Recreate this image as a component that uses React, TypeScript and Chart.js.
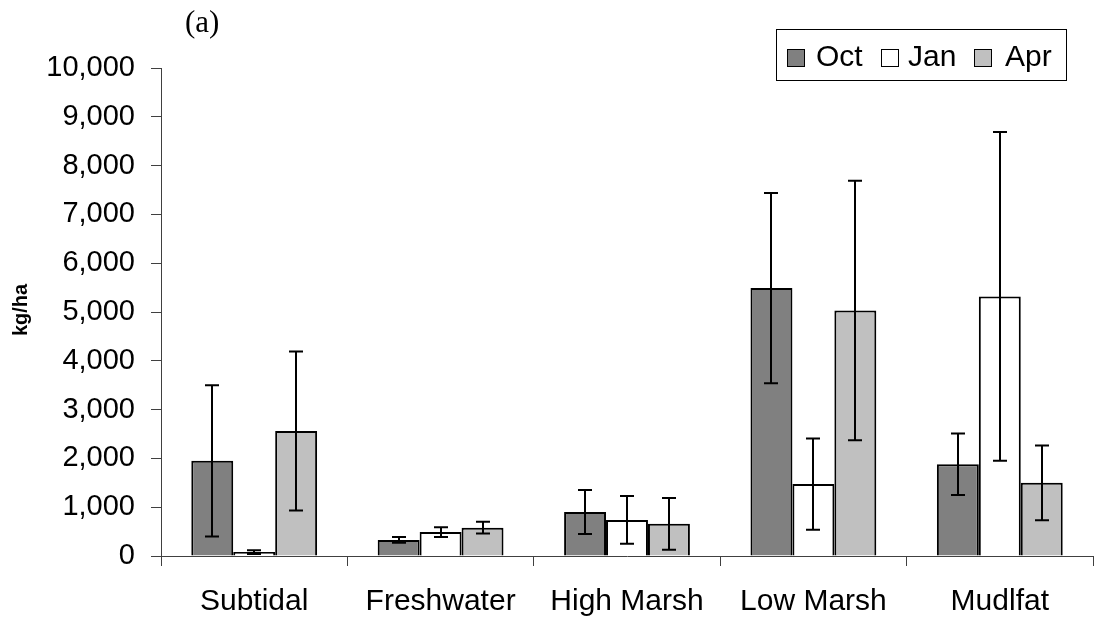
import React, { useEffect, useRef } from "react";
import { Chart, registerables } from "chart.js";

Chart.register(...registerables);

const categories = ["Subtidal", "Freshwater", "High Marsh", "Low Marsh", "Mudlfat"];
const seriesLabels = ["Oct", "Jan", "Apr"];
const octValues = [1950, 330, 900, 5490, 1880];
const octErrors = [1550, 60, 450, 1950, 630];
const janValues = [80, 490, 740, 1475, 5320];
const janErrors = [40, 100, 490, 935, 3370];
const aprValues = [2560, 580, 660, 5030, 1500];
const aprErrors = [1630, 120, 530, 2660, 765];
const yTicks = [0, 1000, 2000, 3000, 4000, 5000, 6000, 7000, 8000, 9000, 10000];
const panelLabel = "(a)";
const yTitle = "kg/ha";

const colors = ["#808080", "#ffffff", "#c0c0c0"];
const FONT = "'Liberation Sans', Arial, sans-serif";

const errorBarPlugin = {
  id: "errorBars",
  afterDatasetsDraw(chart: any) {
    const ctx = chart.ctx;
    const y = chart.scales.y;
    ctx.save();
    ctx.strokeStyle = "#000";
    ctx.lineWidth = 2;
    chart.data.datasets.forEach((ds: any, di: number) => {
      const meta = chart.getDatasetMeta(di);
      meta.data.forEach((bar: any, i: number) => {
        const v = ds.data[i];
        const e = ds.errors[i];
        const x = Math.round(bar.x);
        const yTop = y.getPixelForValue(v + e);
        const yBot = y.getPixelForValue(Math.max(0, v - e));
        ctx.beginPath();
        ctx.moveTo(x, yTop);
        ctx.lineTo(x, yBot);
        ctx.moveTo(x - 7, yTop);
        ctx.lineTo(x + 7, yTop);
        ctx.moveTo(x - 7, yBot);
        ctx.lineTo(x + 7, yBot);
        ctx.stroke();
      });
    });
    ctx.restore();
  },
};

const decorPlugin = {
  id: "decor",
  afterDraw(chart: any) {
    const ctx = chart.ctx;
    ctx.save();
    // panel label
    ctx.fillStyle = "#000";
    ctx.font = "31px 'Liberation Serif', 'Times New Roman', serif";
    ctx.textBaseline = "alphabetic";
    ctx.textAlign = "left";
    ctx.fillText(panelLabel, 185, 32);
    // y title
    ctx.save();
    ctx.translate(27, 310);
    ctx.rotate(-Math.PI / 2);
    ctx.font = "bold 20px " + FONT;
    ctx.textAlign = "center";
    ctx.textBaseline = "alphabetic";
    ctx.fillText(yTitle, 0, 0);
    ctx.restore();
    // legend
    ctx.lineWidth = 1;
    ctx.strokeStyle = "#000";
    ctx.fillStyle = "#fff";
    ctx.fillRect(776.5, 29.5, 290, 51);
    ctx.strokeRect(776.5, 29.5, 290, 51);
    const swatchX = [787, 881, 974];
    const textX = [816, 908, 1005];
    ctx.font = "30px " + FONT;
    ctx.textAlign = "left";
    ctx.textBaseline = "alphabetic";
    chart.data.datasets.forEach((ds: any, i: number) => {
      ctx.fillStyle = ds.backgroundColor;
      ctx.fillRect(swatchX[i] + 0.5, 49.5, 17, 17);
      ctx.strokeRect(swatchX[i] + 0.5, 49.5, 17, 17);
      ctx.fillStyle = "#000";
      ctx.fillText(ds.label, textX[i], 66);
    });
    ctx.restore();
  },
};

export default function App() {
  const ref = useRef<HTMLCanvasElement>(null);
  useEffect(() => {
    document.body.style.margin = "0";
    const values = [octValues, janValues, aprValues];
    const errors = [octErrors, janErrors, aprErrors];
    const chart = new Chart(ref.current as HTMLCanvasElement, {
      type: "bar",
      data: {
        labels: categories,
        datasets: seriesLabels.map((label, i) => ({
          label,
          data: values[i],
          errors: errors[i],
          backgroundColor: colors[i],
          borderColor: "#000",
          borderWidth: 2,
          categoryPercentage: 0.675,
          barPercentage: 1,
        })) as any,
      },
      options: {
        animation: false,
        responsive: false,
        maintainAspectRatio: false,
        layout: { padding: { top: 68, right: 1, left: 0, bottom: 0 } },
        plugins: { legend: { display: false }, title: { display: false }, tooltip: { enabled: false } },
        scales: {
          x: {
            grid: { drawOnChartArea: false, tickLength: 10, color: "#404040", offset: true },
            border: { color: "#404040", width: 1 },
            ticks: { color: "#000", font: { family: FONT, size: 30 }, padding: 18, maxRotation: 0 },
            afterFit(scale: any) {
              scale.height = 67;
            },
          },
          y: {
            min: 0,
            max: 10000,
            afterBuildTicks(scale: any) {
              scale.ticks = yTicks.map((v) => ({ value: v }));
            },
            grid: { drawOnChartArea: false, tickLength: 10, color: "#404040" },
            border: { color: "#404040", width: 1 },
            ticks: {
              color: "#000",
              font: { family: FONT, size: 29 },
              padding: 16,
              callback: (v: any) => Number(v).toLocaleString("en-US"),
            },
            afterFit(scale: any) {
              scale.width = 161;
            },
          },
        },
      },
      plugins: [errorBarPlugin, decorPlugin],
    });
    return () => chart.destroy();
  }, []);
  return (
    <canvas
      ref={ref}
      width={1094}
      height={623}
      style={{ position: "fixed", left: 0, top: 0, width: 1094, height: 623 }}
    />
  );
}
